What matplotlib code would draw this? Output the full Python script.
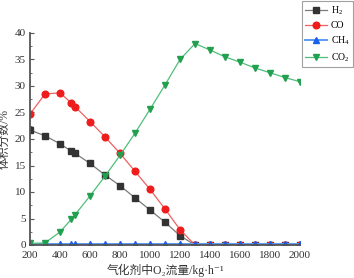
import matplotlib
matplotlib.use("Agg")
import matplotlib.pyplot as plt
from matplotlib.ticker import MultipleLocator

FAM = ['Liberation Serif', 'Noto Sans CJK SC', 'DejaVu Serif']
plt.rcParams['font.family'] = FAM
plt.rcParams['mathtext.fontset'] = 'custom'
plt.rcParams['mathtext.rm'] = 'Liberation Serif'
plt.rcParams['mathtext.it'] = 'Liberation Serif'

x = [200, 300, 400, 475, 500, 600, 700, 800, 900, 1000, 1100, 1200, 1300,
     1400, 1500, 1600, 1700, 1800, 1900, 2000]
h2 = [21.7, 20.6, 19.1, 17.7, 17.3, 15.4, 13.2, 11.2, 8.9, 6.6, 4.3, 1.75, 0,
      0, 0, 0, 0, 0, 0, 0]
co = [24.7, 28.5, 28.7, 26.8, 26.1, 23.3, 20.4, 17.3, 13.9, 10.5, 6.8, 2.9, 0,
      0, 0, 0, 0, 0, 0, 0]
ch4 = [0.1] * 20
co2 = [0.3, 0.4, 2.45, 4.85, 5.7, 9.25, 13.0, 16.9, 21.1, 25.6, 30.2, 35.0, 38.0,
       36.8, 35.5, 34.5, 33.4, 32.5, 31.6, 30.8]

labels = ['H$_2$', 'CO', 'CH$_4$', 'CO$_2$']

fig = plt.figure(figsize=(3.54, 2.78), dpi=100)
ax = fig.add_axes([30/354, 1-245/278, 270/354, 212/278])

ms = 4.2
ax.plot(x, h2, color='#7a7a7a', lw=0.9, marker='s', ms=ms, mfc='#333333', mec='#333333', label=labels[0])
ax.plot(x, co, color='#f06060', lw=0.9, marker='o', ms=ms+0.6, mfc='#ee1c1c', mec='#ee1c1c', label=labels[1])
ax.plot(x, ch4, color='#5b9af5', lw=1.4, marker='^', ms=ms+0.6, mfc='#1a5fe8', mec='#1a5fe8', label=labels[2])
ax.plot(x, co2, color='#4fbf7a', lw=0.9, marker='v', ms=ms+0.6, mfc='#22a050', mec='#22a050', label=labels[3])

ax.set_xlim(200, 2000)
ax.set_ylim(0, 40)
ax.xaxis.set_major_locator(MultipleLocator(200))
ax.yaxis.set_major_locator(MultipleLocator(5))
ax.yaxis.set_minor_locator(MultipleLocator(2.5))
ax.spines['top'].set_visible(False)
ax.spines['right'].set_visible(False)
for s in ['left', 'bottom']:
    ax.spines[s].set_color('#555555')
    ax.spines[s].set_linewidth(1.3)
ax.tick_params(which='major', direction='in', length=3, width=0.8, color='#555555', labelsize=8, labelcolor='#333333')
ax.tick_params(axis='y', which='major', pad=3)
ax.tick_params(axis='x', which='major', pad=4)
ax.tick_params(which='minor', direction='in', length=1.5, width=0.6, color='#555555')
ax.tick_params(axis='x', which='minor', bottom=False)

ax.set_ylabel('体积分数/%', fontsize=8.5, color='#333333', labelpad=3, family=FAM)
ax.set_xlabel('气化剂中O₂流量/kg·h⁻¹', fontsize=8.5, color='#333333', labelpad=3, family=FAM)

leg = fig.legend(loc='upper right', bbox_to_anchor=(1.0, 1.0), fontsize=7,
                 frameon=True, fancybox=False, edgecolor='#888888',
                 handlelength=2.2, labelspacing=0.45, borderpad=0.35,
                 handletextpad=0.4, borderaxespad=0.1)
leg.get_frame().set_linewidth(0.8)

fig.savefig('out.png', dpi=100)
